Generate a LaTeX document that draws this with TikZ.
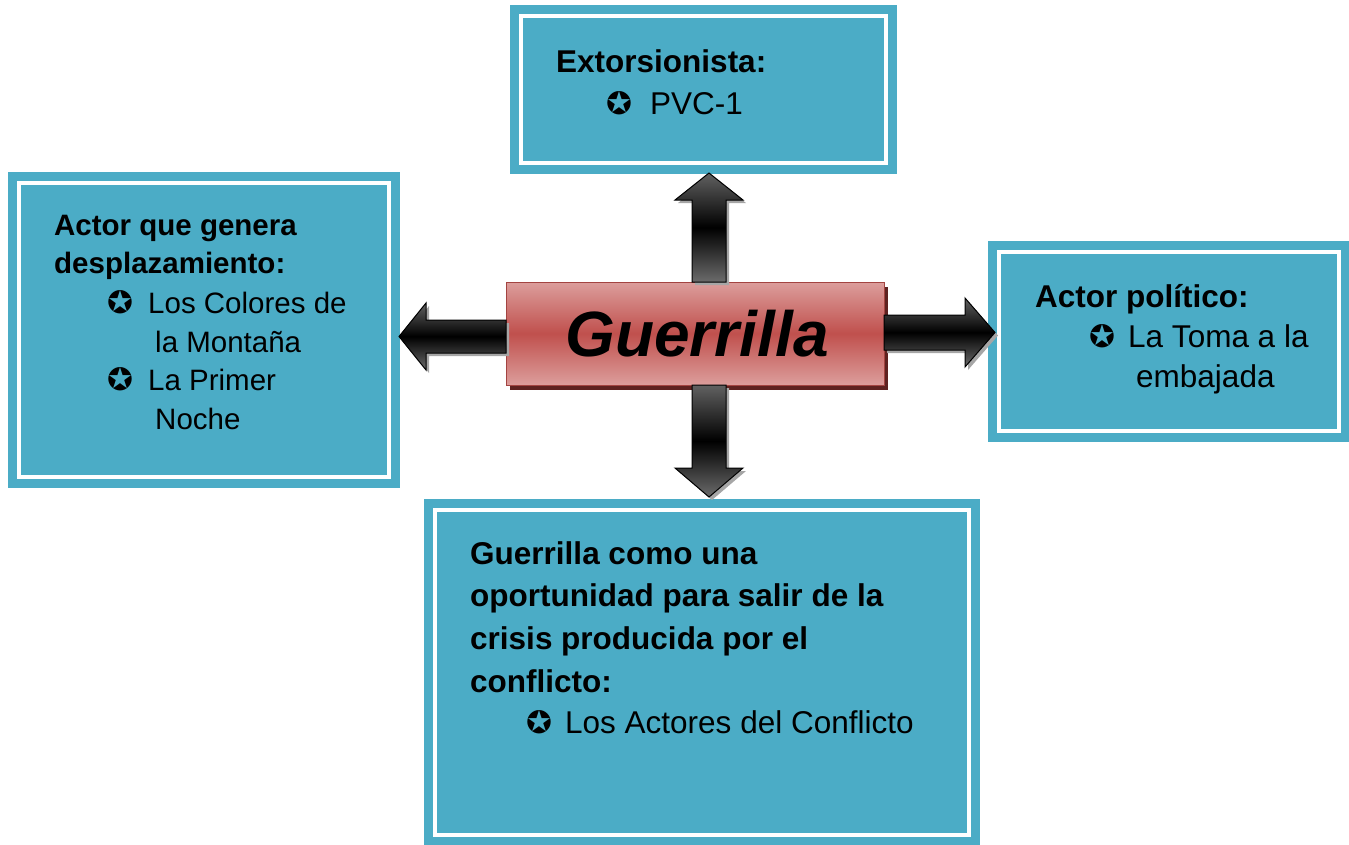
\documentclass[tikz,border=0pt]{standalone}
\usepackage{fontspec}
\setmainfont{Liberation Sans}
\newfontfamily\dingfont{DejaVu Sans}
\usetikzlibrary{shadows}

\definecolor{boxteal}{HTML}{4BACC6}
\definecolor{guerred}{HTML}{C0504D}
\definecolor{guerpink}{HTML}{DC9E9C}
\definecolor{guershadow}{HTML}{5E2220}

\tikzset{
  box/.style={rectangle, fill=boxteal, draw=boxteal, line width=9pt,
    double=white, double distance=4pt, inner sep=0, outer sep=0},
  guer/.style={rectangle, inner sep=0, outer sep=0, draw=guerred!85!black,
    line width=1pt, top color=guerpink, bottom color=guerpink,
    middle color=guerred,
    drop shadow={shadow xshift=4pt, shadow yshift=-5pt, fill=guershadow, opacity=1},
    font=\fontsize{64}{64}\bfseries\itshape},
  fatarrow/.style={draw=black, line width=1pt, top color=black!62,
    bottom color=black!58, middle color=black,
    drop shadow={shadow xshift=3pt, shadow yshift=-3pt, fill=black!35, opacity=1}},
  hd/.style={anchor=base west, inner sep=0, font=\fontsize{#1}{#1}\bfseries},
  hd/.default=31.5,
  tx/.style={anchor=base west, inner sep=0, font=\fontsize{#1}{#1}\selectfont},
  tx/.default=31.5,
  star/.style={anchor=base west, inner sep=0, font=\dingfont\fontsize{31}{31}\selectfont}
}

\begin{document}
\begin{tikzpicture}[x=1pt, y=-1pt]
  \useasboundingbox (0,0) rectangle (1349,844);

  % the four boxes
  \node[box, minimum width=365pt, minimum height=147pt] (ext) at (703.5,89.5) {};
  \node[box, minimum width=370pt, minimum height=294pt] (despl) at (204,330) {};
  \node[box, minimum width=340pt, minimum height=179pt] (pol) at (1169,341.5) {};
  \node[box, minimum width=534pt, minimum height=325pt] (opor) at (702,672.5) {};

  % centre
  \node[guer, minimum width=378pt, minimum height=103pt] (guer) at (695,333.5) {\hspace{4pt}Guerrilla};

  % block arrows out of the centre
  \path[fatarrow] ([xshift=-3pt]guer.north) -- ++(0,-82) -- ++(-17,0)
    -- ++(34,-27) -- ++(34,27) -- ++(-17,0) -- ++(0,82) -- cycle;
  \path[fatarrow] ([xshift=-3pt]guer.south) -- ++(0,83) -- ++(-17,0)
    -- ++(34,29) -- ++(34,-29) -- ++(-17,0) -- ++(0,-83) -- cycle;
  \path[fatarrow] ([shift={(0,-13.5)}]guer.west) -- ++(-80,0) -- ++(0,-17)
    -- ++(-27,33.5) -- ++(27,33.5) -- ++(0,-17) -- ++(80,0) -- cycle;
  \path[fatarrow] ([shift={(0,-18.5)}]guer.east) -- ++(81,0) -- ++(0,-17)
    -- ++(30,34.5) -- ++(-30,34.5) -- ++(0,-17) -- ++(-81,0) -- cycle;

  % top box
  \node[hd] (ext-h) at (556,72) {Extorsionista:};
  \node[star] (ext-s) at (606,114) {✪};
  \node[tx] (ext-1) at (650,114) {PVC-1};

  % left box
  \node[hd=29.5] (despl-h1) at (54,235) {Actor que genera};
  \node[hd=29.5] (despl-h2) at (54,273) {desplazamiento:};
  \node[star] (despl-s1) at (107,313) {✪};
  \node[tx=29.5] (despl-1a) at (148,313) {Los Colores de};
  \node[tx=29.5] (despl-1b) at (155,352) {la Montaña};
  \node[star] (despl-s2) at (107,390) {✪};
  \node[tx=29.5] (despl-2a) at (148,390) {La Primer};
  \node[tx=29.5] (despl-2b) at (155,429) {Noche};

  % right box
  \node[hd] (pol-h) at (1035,307) {Actor político:};
  \node[star] (pol-s) at (1089,347) {✪};
  \node[tx] (pol-1a) at (1128,347) {La Toma a la};
  \node[tx] (pol-1b) at (1136,387) {embajada};

  % bottom box
  \foreach \t [count=\i] in {Guerrilla como una, oportunidad para salir de la,
      crisis producida por el, conflicto:}
    \node[hd] (opor-h\i) at (470,{564+42.7*(\i-1)}) {\t};
  \node[star] (opor-s) at (526,733) {✪};
  \node[tx] (opor-1) at (565,733) {Los Actores del Conflicto};
\end{tikzpicture}
\end{document}
